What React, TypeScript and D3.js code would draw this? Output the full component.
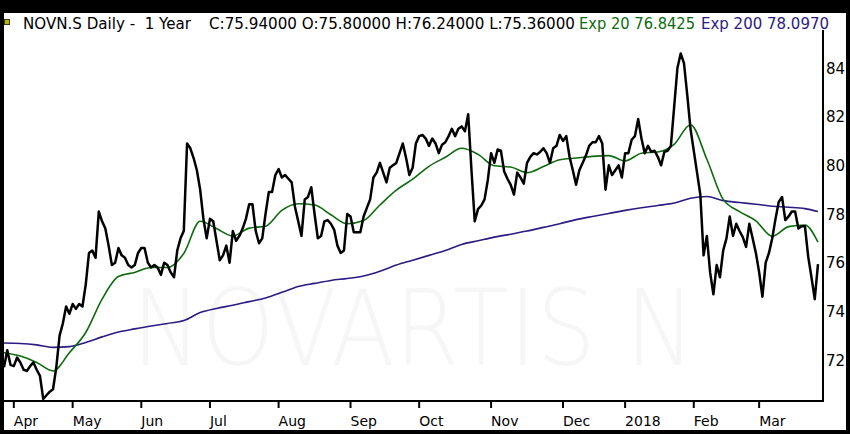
import { useEffect, useRef } from 'react';
import * as d3 from 'd3';

const WIDTH = 850;
const HEIGHT = 434;

// SIX trading calendar for the year shown
const firstDay = '2017-03-29';
const lastDay = '2018-03-27';
const holidays = [
  '2017-04-14', '2017-04-17', '2017-05-01', '2017-05-25', '2017-06-05',
  '2017-08-01', '2017-12-25', '2017-12-26', '2018-01-01', '2018-01-02',
];

// daily closes, one per trading day
const closes = [
  71.7, 72.4, 71.8, 71.75, 72.1, 71.9, 71.6, 71.55, 71.75, 71.9,
  71.6, 71.35, 70.4, 70.55, 70.7, 70.8, 71.7, 73.0, 73.5, 74.2,
  73.9, 74.3, 74.1, 74.3, 74.2, 75.1, 76.4, 76.5, 76.2, 78.1,
  77.7, 77.4, 76.7, 75.9, 76.0, 76.6, 76.3, 76.2, 75.9, 75.8,
  75.9, 76.4, 76.6, 76.6, 76.0, 75.8, 75.9, 75.8, 75.5, 76.0,
  75.9, 75.6, 75.4, 76.5, 77.0, 77.3, 80.9, 80.7, 80.3, 79.8,
  79.0, 77.8, 77.0, 77.8, 77.7, 76.9, 76.1, 76.3, 76.7, 76.0,
  77.3, 76.9, 77.1, 77.4, 77.8, 78.4, 78.4, 77.3, 76.8, 77.0,
  78.0, 78.9, 78.9, 79.6, 79.85, 79.5, 79.6, 79.45, 79.3, 78.3,
  77.7, 77.1, 78.6, 78.7, 79.1, 78.0, 77.0, 77.1, 77.7, 77.75,
  77.6, 77.35, 76.7, 76.4, 76.5, 78.0, 77.9, 77.25, 77.25, 77.25,
  77.9, 78.25, 78.6, 79.5, 79.7, 80.1, 79.7, 79.3, 79.9, 80.0,
  80.1, 80.5, 80.9, 80.3, 79.6, 79.9, 80.9, 81.2, 81.25, 81.1,
  80.8, 81.1, 80.9, 80.5, 80.85, 80.95, 81.2, 81.5, 81.2, 81.5,
  81.6, 81.4, 82.1, 79.8, 77.7, 78.2, 78.35, 78.6, 79.4, 80.5,
  80.1, 80.65, 80.6, 79.75, 79.45, 79.2, 78.8, 79.7, 79.5, 79.25,
  80.1, 80.35, 80.5, 80.45, 80.55, 80.7, 80.5, 80.1, 80.7, 80.8,
  81.25, 81.0, 81.2, 80.35, 79.8, 79.2, 79.8, 80.1, 80.4, 80.8,
  80.95, 80.95, 81.2, 80.9, 79.0, 80.0, 79.6, 79.8, 80.0, 79.5,
  80.5, 80.5, 81.05, 81.2, 81.9, 81.1, 80.5, 80.8, 80.55, 80.6,
  80.35, 80.0, 80.55, 80.6, 80.8, 82.4, 84.0, 84.6, 84.2, 82.9,
  81.5, 80.6, 79.7, 78.8, 76.3, 77.1, 75.6, 74.7, 75.9, 75.4,
  76.5, 77.0, 77.9, 77.1, 77.6, 77.3, 77.05, 76.65, 77.6, 77.0,
  76.4, 75.6, 74.6, 76.0, 76.4, 77.0, 77.8, 78.5, 78.7, 77.75,
  77.9, 78.1, 78.1, 77.4, 77.5, 77.5, 76.25, 75.4, 74.5, 75.94,
];

// moving averages read every fifth trading day
const emaDays = [
  0, 5, 10, 15, 20, 25, 30, 35, 40, 45, 50, 55, 60, 65, 70, 75, 80, 85, 90, 95,
  100, 105, 110, 115, 120, 125, 130, 135, 140, 145, 150, 155, 160, 165, 170, 175,
  180, 185, 190, 195, 200, 205, 210, 215, 220, 225, 230, 235, 240, 245, 249,
];
const exp20 = [
  72.3, 72.16, 71.9, 71.55, 72.3, 73.13, 74.5, 75.43, 75.6, 75.8, 75.8, 76.38,
  77.7, 77.4, 77.1, 77.42, 77.5, 78.15, 78.42, 78.37, 77.97, 77.6, 77.73, 78.37,
  78.98, 79.43, 79.96, 80.33, 80.7, 80.45, 79.98, 79.93, 79.7, 79.95, 80.23, 80.3,
  80.37, 80.4, 80.18, 80.5, 80.55, 80.86, 81.67, 80.25, 78.6, 78.1, 77.72, 77.08,
  77.48, 77.55, 76.84,
];
const exp200 = [
  72.7, 72.68, 72.62, 72.52, 72.55, 72.72, 72.95, 73.15, 73.28, 73.4, 73.5, 73.62,
  73.95, 74.12, 74.25, 74.4, 74.55, 74.78, 75.02, 75.15, 75.27, 75.35, 75.45, 75.65,
  75.9, 76.1, 76.3, 76.5, 76.75, 76.9, 77.05, 77.17, 77.3, 77.45, 77.6, 77.77,
  77.9, 78.02, 78.15, 78.26, 78.35, 78.45, 78.65, 78.72, 78.55, 78.47, 78.4, 78.32,
  78.28, 78.22, 78.1,
];

const monthLabels = ['Apr', 'May', 'Jun', 'Jul', 'Aug', 'Sep', 'Oct', 'Nov', 'Dec', '2018', 'Feb', 'Mar'];
const priceTicks = [72, 74, 76, 78, 80, 82, 84];

const headerTexts = [
  'NOVN.S Daily -  1 Year',
  'C:75.94000 O:75.80000 H:76.24000 L:75.36000',
  'Exp 20 76.8425',
  'Exp 200 78.0970',
];
const watermark = 'NOVARTIS N';

const FONT = '"DejaVu Sans", Verdana, sans-serif';
const GREEN = '#0d6b0d';
const PURPLE = '#2b1b82';

export default function App() {
  const svgRef = useRef<SVGSVGElement>(null);

  useEffect(() => {
    if (!svgRef.current) return;
    const svg = d3.select(svgRef.current);
    svg.selectAll('*').remove();

    const skip = new Set(holidays);
    const fmt = d3.utcFormat('%Y-%m-%d');
    const days = d3
      .utcDays(new Date(firstDay), d3.utcDay.offset(new Date(lastDay), 1))
      .filter((d) => d.getUTCDay() % 6 !== 0 && !skip.has(fmt(d)));

    const plotLeft = 4;
    const plotRight = 822;
    const plotTop = 30;
    const plotBottom = 400;

    const x = d3.scaleLinear().domain([0, days.length - 1]).range([4, 818]);
    const y = d3.scaleLinear().domain([72, 84]).range([360, 68]);

    // frame
    svg.append('rect').attr('width', WIDTH).attr('height', HEIGHT).attr('fill', '#000');
    svg.append('rect').attr('x', 4).attr('y', 13).attr('width', 842).attr('height', 417).attr('fill', '#fff');

    // watermark
    svg.append('text')
      .attr('x', 132)
      .attr('y', 365)
      .attr('textLength', 563)
      .attr('lengthAdjust', 'spacingAndGlyphs')
      .attr('font-family', FONT)
      .attr('font-weight', 200)
      .attr('font-size', 106)
      .attr('fill', '#f6f6f6')
      .text(watermark);

    svg.append('clipPath').attr('id', 'plot-clip')
      .append('rect')
      .attr('x', plotLeft)
      .attr('y', plotTop)
      .attr('width', plotRight - plotLeft)
      .attr('height', plotBottom - plotTop);

    const g = svg.append('g').attr('clip-path', 'url(#plot-clip)');

    const emaLine = (vals: number[]) =>
      d3.line<number>()
        .x((_, i) => x(emaDays[i]))
        .y((v) => y(v))
        .curve(d3.curveMonotoneX)(vals);

    g.append('path')
      .attr('d', emaLine(exp200))
      .attr('fill', 'none')
      .attr('stroke', PURPLE)
      .attr('stroke-width', 1.6);

    g.append('path')
      .attr('d', emaLine(exp20))
      .attr('fill', 'none')
      .attr('stroke', GREEN)
      .attr('stroke-width', 1.6);

    const priceLine = d3.line<number>()
      .x((_, i) => x(i))
      .y((v) => y(v));

    g.append('path')
      .attr('d', priceLine(closes))
      .attr('fill', 'none')
      .attr('stroke', '#000')
      .attr('stroke-width', 2.5)
      .attr('stroke-linejoin', 'round');

    // axes
    svg.append('line')
      .attr('x1', plotRight + 1).attr('x2', plotRight + 1)
      .attr('y1', plotTop).attr('y2', plotBottom + 1)
      .attr('stroke', '#000').attr('stroke-width', 2);
    svg.append('line')
      .attr('x1', plotLeft).attr('x2', plotRight + 2)
      .attr('y1', plotBottom + 1).attr('y2', plotBottom + 1)
      .attr('stroke', '#000').attr('stroke-width', 2);

    svg.append('g')
      .selectAll('text')
      .data(priceTicks)
      .join('text')
      .attr('x', 826)
      .attr('y', (d) => y(d) + 5.5)
      .attr('font-family', FONT)
      .attr('font-size', 15)
      .attr('fill', '#000')
      .text((d) => d);

    const monthStarts = d3.range(1, days.length).filter(
      (i) => days[i].getUTCMonth() !== days[i - 1].getUTCMonth()
    );

    const ticks = svg.append('g')
      .selectAll('g')
      .data(monthStarts)
      .join('g')
      .attr('transform', (i) => `translate(${x(i)},0)`);

    ticks.append('line')
      .attr('y1', plotBottom + 1)
      .attr('y2', 408)
      .attr('stroke', '#000')
      .attr('stroke-width', 2);

    ticks.append('text')
      .attr('x', 0)
      .attr('y', 426)
      .attr('font-family', FONT)
      .attr('font-size', 14)
      .attr('fill', '#000')
      .text((_, k) => monthLabels[k]);

    // header
    svg.append('rect')
      .attr('x', 4.5).attr('y', 19.5).attr('width', 5).attr('height', 5)
      .attr('fill', '#b8b400').attr('stroke', '#3a3a10').attr('stroke-width', 1);

    const headerLayout = [
      { x: 23, w: 168, color: '#000' },
      { x: 209, w: 366, color: '#000' },
      { x: 579, w: 116, color: GREEN },
      { x: 701, w: 128, color: PURPLE },
    ];

    svg.append('g')
      .selectAll('text')
      .data(headerTexts)
      .join('text')
      .attr('x', (_, i) => headerLayout[i].x)
      .attr('y', 29)
      .attr('textLength', (_, i) => headerLayout[i].w)
      .attr('lengthAdjust', 'spacingAndGlyphs')
      .attr('font-family', FONT)
      .attr('font-size', 15)
      .attr('fill', (_, i) => headerLayout[i].color)
      .style('white-space', 'pre')
      .text((d) => d);
  }, []);

  return (
    <svg
      ref={svgRef}
      width={WIDTH}
      height={HEIGHT}
      style={{ position: 'absolute', left: 0, top: 0, display: 'block' }}
    />
  );
}
